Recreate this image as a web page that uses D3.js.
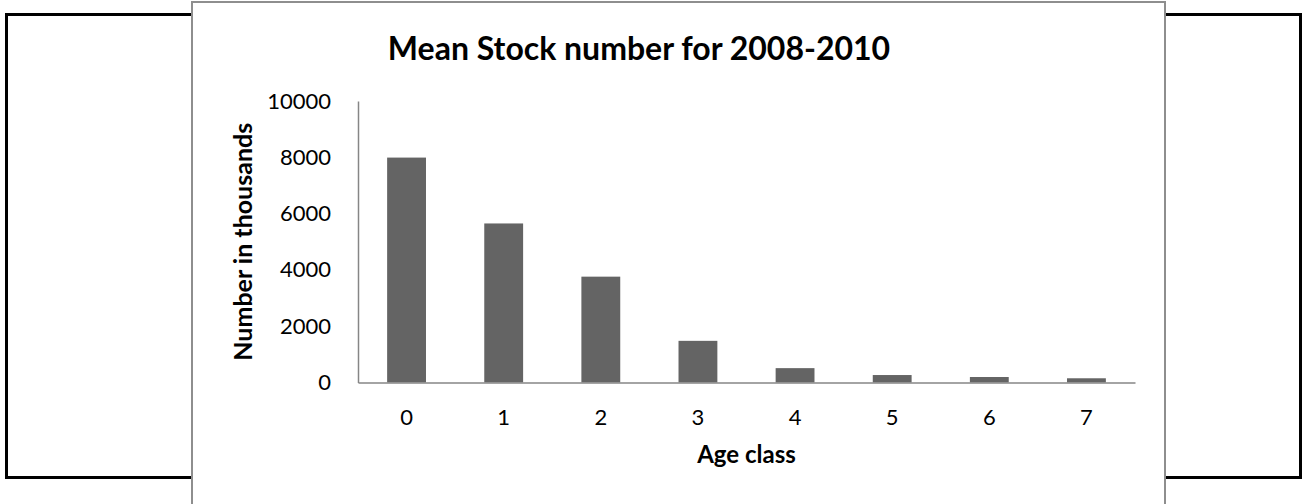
<!DOCTYPE html>
<html>
<head>
<meta charset="utf-8">
<script src="https://cdn.jsdelivr.net/npm/d3@7"></script>
<style>
  html, body { margin: 0; padding: 0; background: #fff; }
  svg { display: block; }
  text { font-family: Lato, "Open Sans", sans-serif; fill: #000; }
</style>
</head>
<body>
<svg id="chart" width="1302" height="504"></svg>
<script>
// Mean stock number (thousands) per age class, 2008-2010
const ageClasses = ["0", "1", "2", "3", "4", "5", "6", "7"];
const meanStock = [7990, 5650, 3760, 1480, 510, 265, 195, 150];
const yTicks = [0, 2000, 4000, 6000, 8000, 10000];

const titleText = "Mean Stock number for 2008-2010";
const xTitle = "Age class";
const yTitle = "Number in thousands";

const svg = d3.select("#chart");

// Outer black border box
svg.append("rect")
  .attr("x", 6.5).attr("y", 14.5)
  .attr("width", 1294).attr("height", 463)
  .attr("fill", "#fff")
  .attr("stroke", "#000")
  .attr("stroke-width", 3);

// Chart frame
svg.append("rect")
  .attr("x", 192).attr("y", 2)
  .attr("width", 973).attr("height", 520)
  .attr("fill", "#fff")
  .attr("stroke", "#8e8e8e")
  .attr("stroke-width", 2);

const plot = { left: 358, right: 1135, top: 101, bottom: 382.5 };

const x = d3.scaleBand()
  .domain(ageClasses)
  .range([plot.left, plot.right])
  .paddingInner(0.6)
  .paddingOuter(0.3);

const y = d3.scaleLinear()
  .domain([0, 10000])
  .range([plot.bottom, plot.top]);

// Bars
svg.append("g")
  .selectAll("rect")
  .data(meanStock)
  .join("rect")
  .attr("x", (d, i) => x(ageClasses[i]))
  .attr("y", d => y(d))
  .attr("width", x.bandwidth())
  .attr("height", d => y(0) - y(d))
  .attr("fill", "#646464");

// Y axis
const yAxis = svg.append("g")
  .attr("transform", `translate(${plot.left},0)`)
  .call(d3.axisLeft(y).tickValues(yTicks).tickSize(0).tickPadding(27).tickFormat(d3.format("d")));
yAxis.select(".domain").attr("stroke", "#868686").attr("stroke-width", 1.5);
yAxis.selectAll("text")
  .style("font-family", "Lato, sans-serif")
  .style("font-size", "22px")
  .attr("fill", "#000");

// X axis
const xAxis = svg.append("g")
  .attr("transform", `translate(0,${plot.bottom})`)
  .call(d3.axisBottom(x).tickSize(0));
xAxis.select(".domain").attr("stroke", "#868686").attr("stroke-width", 1.5);
xAxis.selectAll("text")
  .attr("y", 42).attr("dy", 0)
  .style("font-family", "Lato, sans-serif")
  .style("font-size", "22px")
  .attr("fill", "#000");

// Title
svg.append("text")
  .attr("x", 639).attr("y", 60)
  .attr("text-anchor", "middle")
  .style("font-size", "32px")
  .style("font-weight", "bold")
  .text(titleText);

// Axis titles
svg.append("text")
  .attr("x", (plot.left + plot.right) / 2).attr("y", 463)
  .attr("text-anchor", "middle")
  .style("font-size", "24px")
  .style("font-weight", "bold")
  .text(xTitle);

svg.append("text")
  .attr("transform", `translate(252,${(plot.top + plot.bottom) / 2}) rotate(-90)`)
  .attr("text-anchor", "middle")
  .style("font-size", "25px")
  .style("font-weight", "bold")
  .text(yTitle);
</script>
</body>
</html>
